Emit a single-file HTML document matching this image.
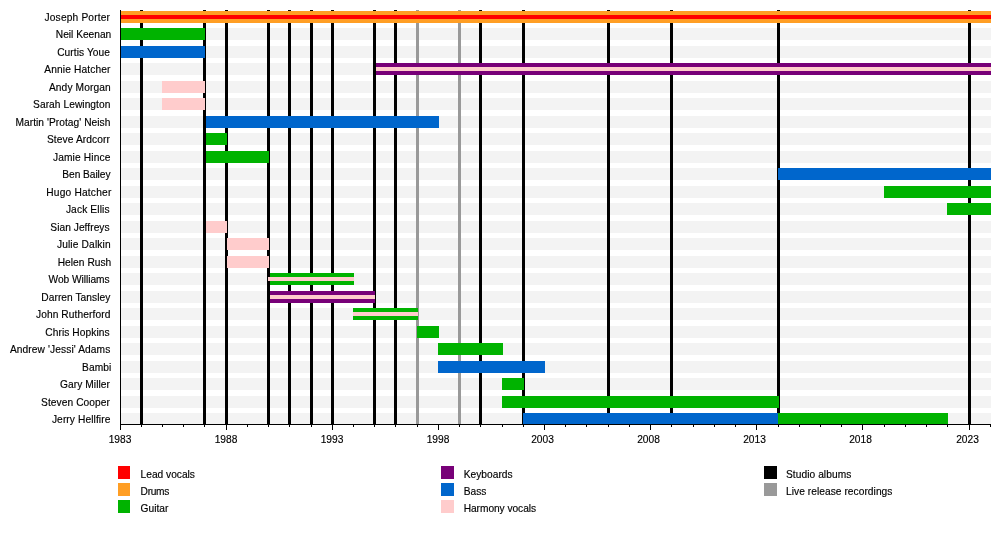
<!DOCTYPE html>
<html lang="en"><head><meta charset="utf-8"><title>Timeline</title>
<style>
html,body{margin:0;padding:0;background:#fff}
#c{position:relative;width:1000px;height:534px;overflow:hidden;background:#fff;font-family:"Liberation Sans",Arial,sans-serif;font-size:10.2px;color:#000;line-height:12px;-webkit-text-stroke:0.15px #000}
#c div{position:absolute}
.s{left:121px;width:870px;height:12px;background:#f3f3f3}
.l{top:10px;width:3px;height:414px}
.b{height:12px}
.t{height:4px}
.n{left:0;width:110px;text-align:right;white-space:nowrap;height:12px}
.y{width:40px;text-align:center;top:434px;height:12px}
.k{width:12px;height:13px}
.g{white-space:nowrap;height:12px}
.m{width:1px;background:#000;top:424px}
</style></head><body>
<div id="c">
<div class="s" style="top:11px"></div><div class="s" style="top:28px"></div><div class="s" style="top:46px"></div><div class="s" style="top:63px"></div><div class="s" style="top:81px"></div><div class="s" style="top:98px"></div><div class="s" style="top:116px"></div><div class="s" style="top:133px"></div><div class="s" style="top:151px"></div><div class="s" style="top:168px"></div><div class="s" style="top:186px"></div><div class="s" style="top:203px"></div><div class="s" style="top:221px"></div><div class="s" style="top:238px"></div><div class="s" style="top:256px"></div><div class="s" style="top:273px"></div><div class="s" style="top:291px"></div><div class="s" style="top:308px"></div><div class="s" style="top:326px"></div><div class="s" style="top:343px"></div><div class="s" style="top:361px"></div><div class="s" style="top:378px"></div><div class="s" style="top:396px"></div><div class="s" style="top:413px"></div>
<div class="l" style="left:140px;background:#000000"></div><div class="l" style="left:203px;background:#000000"></div><div class="l" style="left:225px;background:#000000"></div><div class="l" style="left:267px;background:#000000"></div><div class="l" style="left:288px;background:#000000"></div><div class="l" style="left:310px;background:#000000"></div><div class="l" style="left:331px;background:#000000"></div><div class="l" style="left:373px;background:#000000"></div><div class="l" style="left:394px;background:#000000"></div><div class="l" style="left:416px;background:#999999"></div><div class="l" style="left:458px;background:#999999"></div><div class="l" style="left:479px;background:#000000"></div><div class="l" style="left:522px;background:#000000"></div><div class="l" style="left:607px;background:#000000"></div><div class="l" style="left:670px;background:#000000"></div><div class="l" style="left:777px;background:#000000"></div><div class="l" style="left:968px;background:#000000"></div>
<div class="b" style="left:121px;top:11px;width:870px;background:#ff9e24"></div><div class="t" style="left:121px;top:15px;width:870px;background:#ff0000"></div><div class="b" style="left:121px;top:28px;width:84px;background:#00b300"></div><div class="b" style="left:121px;top:46px;width:84px;background:#0066cc"></div><div class="b" style="left:376px;top:63px;width:615px;background:#780078"></div><div class="t" style="left:376px;top:67px;width:615px;background:#ffcccc"></div><div class="b" style="left:162px;top:81px;width:43px;background:#ffcccc"></div><div class="b" style="left:162px;top:98px;width:43px;background:#ffcccc"></div><div class="b" style="left:206px;top:116px;width:233px;background:#0066cc"></div><div class="b" style="left:206px;top:133px;width:21px;background:#00b300"></div><div class="b" style="left:206px;top:151px;width:63px;background:#00b300"></div><div class="b" style="left:778px;top:168px;width:213px;background:#0066cc"></div><div class="b" style="left:884px;top:186px;width:107px;background:#00b300"></div><div class="b" style="left:947px;top:203px;width:44px;background:#00b300"></div><div class="b" style="left:206px;top:221px;width:21px;background:#ffcccc"></div><div class="b" style="left:227px;top:238px;width:42px;background:#ffcccc"></div><div class="b" style="left:227px;top:256px;width:42px;background:#ffcccc"></div><div class="b" style="left:270px;top:273px;width:84px;background:#00b300"></div><div class="t" style="left:268px;top:277px;width:86px;background:#ffcccc"></div><div class="b" style="left:270px;top:291px;width:105px;background:#780078"></div><div class="t" style="left:270px;top:295px;width:105px;background:#ffcccc"></div><div class="b" style="left:353px;top:308px;width:65px;background:#00b300"></div><div class="t" style="left:353px;top:312px;width:65px;background:#ffcccc"></div><div class="b" style="left:417px;top:326px;width:22px;background:#00b300"></div><div class="b" style="left:438px;top:343px;width:65px;background:#00b300"></div><div class="b" style="left:438px;top:361px;width:107px;background:#0066cc"></div><div class="b" style="left:502px;top:378px;width:22px;background:#00b300"></div><div class="b" style="left:502px;top:396px;width:277px;background:#00b300"></div><div class="b" style="left:523px;top:413px;width:255px;background:#0066cc"></div><div class="b" style="left:778px;top:413px;width:170px;background:#00b300"></div>
<div style="left:120px;top:10px;width:1px;height:420px;background:#000"></div><div style="left:120px;top:424px;width:871px;height:1px;background:#000"></div><div class="m" style="left:120px;height:6px"></div><div class="m" style="left:141px;height:3px"></div><div class="m" style="left:162px;height:3px"></div><div class="m" style="left:183px;height:3px"></div><div class="m" style="left:204px;height:3px"></div><div class="m" style="left:226px;height:6px"></div><div class="m" style="left:247px;height:3px"></div><div class="m" style="left:268px;height:3px"></div><div class="m" style="left:289px;height:3px"></div><div class="m" style="left:311px;height:3px"></div><div class="m" style="left:332px;height:6px"></div><div class="m" style="left:353px;height:3px"></div><div class="m" style="left:374px;height:3px"></div><div class="m" style="left:395px;height:3px"></div><div class="m" style="left:417px;height:3px"></div><div class="m" style="left:438px;height:6px"></div><div class="m" style="left:459px;height:3px"></div><div class="m" style="left:480px;height:3px"></div><div class="m" style="left:502px;height:3px"></div><div class="m" style="left:523px;height:3px"></div><div class="m" style="left:544px;height:6px"></div><div class="m" style="left:565px;height:3px"></div><div class="m" style="left:586px;height:3px"></div><div class="m" style="left:608px;height:3px"></div><div class="m" style="left:629px;height:3px"></div><div class="m" style="left:650px;height:6px"></div><div class="m" style="left:671px;height:3px"></div><div class="m" style="left:693px;height:3px"></div><div class="m" style="left:714px;height:3px"></div><div class="m" style="left:735px;height:3px"></div><div class="m" style="left:756px;height:6px"></div><div class="m" style="left:778px;height:3px"></div><div class="m" style="left:799px;height:3px"></div><div class="m" style="left:820px;height:3px"></div><div class="m" style="left:841px;height:3px"></div><div class="m" style="left:862px;height:6px"></div><div class="m" style="left:884px;height:3px"></div><div class="m" style="left:905px;height:3px"></div><div class="m" style="left:926px;height:3px"></div><div class="m" style="left:947px;height:3px"></div><div class="m" style="left:969px;height:6px"></div><div class="m" style="left:990px;height:3px"></div>
<div class="y" style="left:100px">1983</div><div class="y" style="left:206px">1988</div><div class="y" style="left:312px">1993</div><div class="y" style="left:418px">1998</div><div class="y" style="left:522.5px">2003</div><div class="y" style="left:628.5px">2008</div><div class="y" style="left:734.5px">2013</div><div class="y" style="left:840.5px">2018</div><div class="y" style="left:947.5px">2023</div>
<div class="n" style="top:12px;width:110.17px;letter-spacing:0.17px">Joseph Porter</div><div class="n" style="top:29px;width:111.3px">Neil Keenan</div><div class="n" style="top:47px;width:110.07px;letter-spacing:0.07px">Curtis Youe</div><div class="n" style="top:64px;width:110.53px;letter-spacing:0.13px">Annie Hatcher</div><div class="n" style="top:82px;width:110.76px;letter-spacing:0.11px">Andy Morgan</div><div class="n" style="top:99px;width:110.46px;letter-spacing:0.06px">Sarah Lewington</div><div class="n" style="top:117px;width:110.45px;letter-spacing:0.05px">Martin 'Protag' Neish</div><div class="n" style="top:134px;width:110.11px;letter-spacing:0.11px">Steve Ardcorr</div><div class="n" style="top:152px;width:110.54px;letter-spacing:0.14px">Jamie Hince</div><div class="n" style="top:169px;width:110.44px;letter-spacing:-0.06px">Ben Bailey</div><div class="n" style="top:187px;width:111.5px;letter-spacing:0.2px">Hugo Hatcher</div><div class="n" style="top:204px;width:109.74px;letter-spacing:0.14px">Jack Ellis</div><div class="n" style="top:222px;width:109.65px;letter-spacing:0.05px">Sian Jeffreys</div><div class="n" style="top:239px;width:110.8px;letter-spacing:0.15px">Julie Dalkin</div><div class="n" style="top:257px;width:111.34px;letter-spacing:0.04px">Helen Rush</div><div class="n" style="top:274px;width:109.56px;letter-spacing:-0.04px">Wob Williams</div><div class="n" style="top:292px;width:110.35px;letter-spacing:0.05px">Darren Tansley</div><div class="n" style="top:309px;width:110.5px;letter-spacing:0.1px">John Rutherford</div><div class="n" style="top:327px;width:109.67px;letter-spacing:0.07px">Chris Hopkins</div><div class="n" style="top:344px;width:110.4px;letter-spacing:0.1px">Andrew 'Jessi' Adams</div><div class="n" style="top:362px;width:111.38px;letter-spacing:0.08px">Bambi</div><div class="n" style="top:379px;width:110.07px;letter-spacing:0.07px">Gary Miller</div><div class="n" style="top:397px;width:110.08px;letter-spacing:0.08px">Steven Cooper</div><div class="n" style="top:414px;width:110.5px;letter-spacing:0.1px">Jerry Hellfire</div>
<div class="k" style="left:118px;top:466px;background:#ff0000"></div><div class="g" style="left:140.6px;top:469px">Lead vocals</div><div class="k" style="left:118px;top:483px;background:#ff9e24"></div><div class="g" style="left:140.6px;top:486px;letter-spacing:-0.3px">Drums</div><div class="k" style="left:118px;top:500px;background:#00b300"></div><div class="g" style="left:140.6px;top:503px">Guitar</div><div class="k" style="left:441px;top:466px;background:#780078;width:13px"></div><div class="g" style="left:463.7px;top:469px;letter-spacing:0.03px">Keyboards</div><div class="k" style="left:441px;top:483px;background:#0066cc;width:13px"></div><div class="g" style="left:463.7px;top:486px;letter-spacing:0.04px">Bass</div><div class="k" style="left:441px;top:500px;background:#ffcccc;width:13px"></div><div class="g" style="left:463.7px;top:503px;letter-spacing:-0.05px">Harmony vocals</div><div class="k" style="left:764px;top:466px;background:#000000;width:13px"></div><div class="g" style="left:786px;top:469px;letter-spacing:0.06px">Studio albums</div><div class="k" style="left:764px;top:483px;background:#999999;width:13px"></div><div class="g" style="left:786px;top:486px;letter-spacing:0.05px">Live release recordings</div>
</div>
</body></html>
